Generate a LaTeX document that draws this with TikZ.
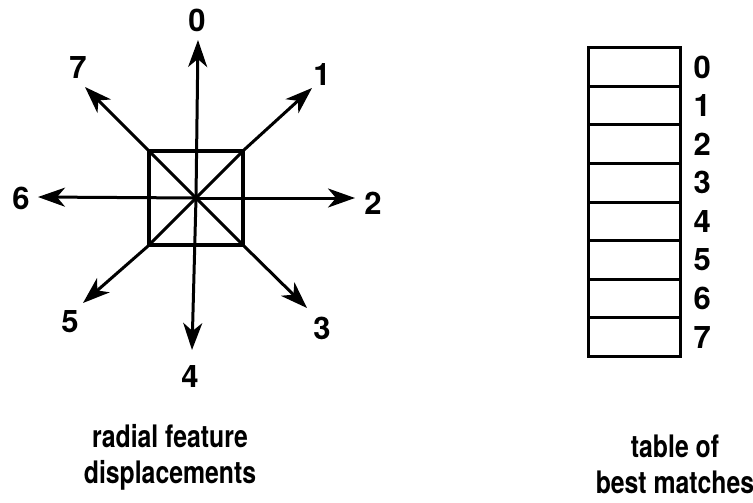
\documentclass[tikz,border=0pt]{standalone}
\usepackage{fontspec}
\setmainfont{TeX Gyre Heros}
\newfontfamily\capfont{TeX Gyre Heros}[FakeStretch=0.8]
\usetikzlibrary{arrows.meta,positioning}
\tikzset{
  every picture/.style={line width=3pt},
  rarrow/.style={-{Stealth[length=27pt,width=19pt,inset=8pt]}},
  rlabel/.style={font=\bfseries\fontsize{31}{31}\selectfont, inner sep=0pt},
  rbox/.style={draw, line width=3.4pt, minimum size=94pt, inner sep=0pt},
  rowcell/.style={draw, minimum width=92pt, minimum height=38.6pt,
                  inner sep=0pt, outer sep=0pt},
  caption/.style={font=\capfont\bfseries\fontsize{31}{36}\selectfont,
                  align=center, inner sep=0pt},
}

\begin{document}
\begin{tikzpicture}[x=1pt,y=-1pt]
  \useasboundingbox (0,0) rectangle (753,503);
  % radial feature displacements
  \node[rbox] (sq) at (196,198) {};
  \coordinate (c) at (sq.center);
  \coordinate (t0) at (198,40);
  \coordinate (t1) at (312,88);
  \coordinate (t2) at (355,198);
  \coordinate (t3) at (307,308);
  \coordinate (t4) at (192,350);
  \coordinate (t5) at (83,303);
  \coordinate (t6) at (38,197);
  \coordinate (t7) at (85,87);
  \draw[rarrow] (c) -- (t0);
  \draw[rarrow] (sq.north east) -- (t1);
  \draw[rarrow] (c) -- (t2);
  \draw[rarrow] (sq.south east) -- (t3);
  \draw[rarrow] (c) -- (t4);
  \draw[rarrow] (sq.south west) -- (t5);
  \draw[rarrow] (c) -- (t6);
  \draw[rarrow] (sq.north west) -- (t7);
  \draw (sq.north west) -- (sq.south east);
  \draw (sq.north east) -- (sq.south west);
  \node[rlabel] (l0) at (197,20) {0};
  \node[rlabel] (l1) at (322,75) {1};
  \node[rlabel] (l2) at (373,203) {2};
  \node[rlabel] (l3) at (322,328) {3};
  \node[rlabel] (l4) at (190,377) {4};
  \node[rlabel] (l5) at (70,322) {5};
  \node[rlabel] (l6) at (21,198) {6};
  \node[rlabel] (l7) at (78,68) {7};
  % table of best matches
  \foreach \i in {0,...,7}
    \node[rowcell] (r\i) at (634,{67+38.6*\i}) {};
  \foreach \i in {0,...,7}
    \node[rlabel, right=12pt of r\i.east] (n\i) {\i};
  \node[caption] (capL) at (170,457) {radial feature\\displacements};
  \node[caption] (capR) at (675,464) {table of\\best matches};
\end{tikzpicture}
\end{document}
